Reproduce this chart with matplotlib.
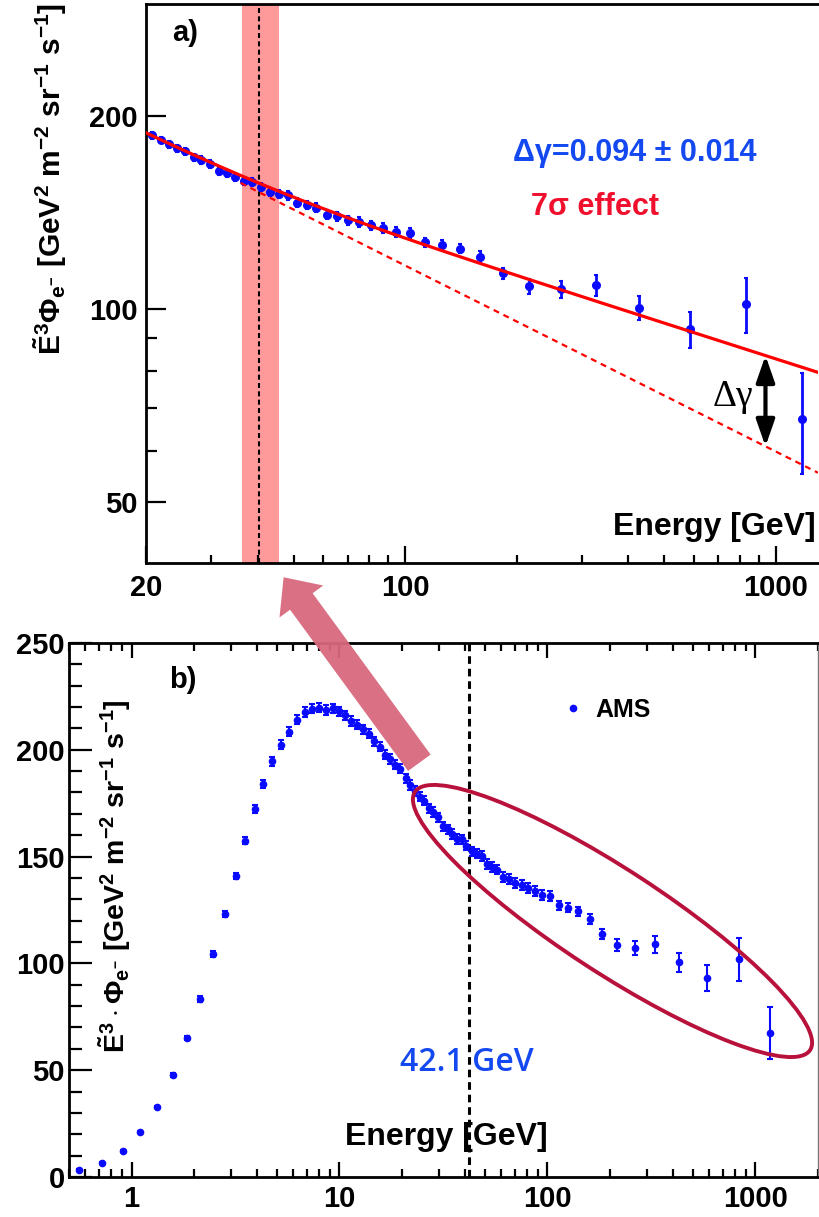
import numpy as np
import matplotlib
matplotlib.use('Agg')
import matplotlib.pyplot as plt
from matplotlib.patches import Ellipse, FancyArrowPatch

plt.rcParams['font.family'] = ['Liberation Sans', 'DejaVu Sans']
plt.rcParams['font.weight'] = 'bold'
plt.rcParams['axes.labelweight'] = 'bold'
plt.rcParams['mathtext.fontset'] = 'custom'
plt.rcParams['mathtext.rm'] = 'Liberation Sans:bold'
plt.rcParams['mathtext.it'] = 'Liberation Sans:bold'
plt.rcParams['mathtext.bf'] = 'Liberation Sans:bold'

# AMS electron flux x E^3
energy = [0.56, 0.72, 0.905, 1.10, 1.32, 1.58, 1.84, 2.13, 2.46, 2.81,
          3.17, 3.53, 3.92, 4.31, 4.76, 5.22, 5.73, 6.26, 6.82, 7.39,
          7.97, 8.61, 9.27, 9.95, 10.67, 11.4, 12.18, 13.0, 13.9, 14.7,
          15.6, 16.6, 17.5, 18.5, 19.5,
          20.8, 21.9, 23.1, 24.3, 25.5, 26.9, 28.2, 29.8, 31.4, 33.1,
          34.8, 36.8, 38.7, 40.8, 43.2, 45.6, 48.3, 51.2, 54.2, 57.4,
          61.4, 65.6, 70.2, 75.1, 80.7, 86.9, 94.6, 103.2,
          113.2, 125.8, 140.8, 159.4, 183.8, 216.3, 262.7, 327.6, 428.2,
          588.6, 832.0, 1174.0]
flux = [3.3, 6.6, 12.2, 21.1, 32.8, 47.8, 65.1, 83.3, 104.4, 123.1,
        140.9, 157.4, 172.1, 184.1, 194.6, 202.4, 208.5, 214.1, 217.6, 219.2,
        219.7, 218.6, 219.4, 218.0, 216.1, 213.5, 211.8, 209.6, 207.5, 204.0,
        201.5, 197.7, 195.6, 193.0, 191.2,
        186.6, 183.5, 180.7, 178.1, 176.2, 172.6, 170.8, 168.4, 164.2, 162.8,
        160.5, 158.2, 158.0, 155.1, 152.4, 151.3, 150.4, 146.5, 145.3, 143.9,
        140.3, 139.5, 137.5, 136.8, 135.1, 133.9, 131.9, 131.5,
        127.1, 126.1, 124.3, 120.7, 113.7, 108.6, 107.3, 109.0, 100.5,
        93.0, 101.9, 67.4]
flux_err = [0.3, 0.3, 0.4, 0.5, 0.6, 0.8, 1.0, 1.2, 1.4, 1.6,
            1.6, 1.7, 1.8, 1.9, 2.0, 2.0, 2.1, 2.1, 2.2, 2.2,
            2.2, 2.2, 2.2, 2.2, 2.2, 2.2, 2.2, 2.2, 2.2, 2.2,
            2.2, 2.2, 2.2, 2.2, 2.2,
            2.2, 2.2, 2.2, 2.2, 2.2, 2.2, 2.2, 2.2, 2.2, 2.2,
            2.2, 2.2, 2.2, 2.2, 2.2, 2.2, 2.3, 2.3, 2.3, 2.3,
            2.3, 2.3, 2.3, 2.3, 2.3, 2.4, 2.4, 2.4,
            2.0, 2.0, 2.0, 2.5, 2.3, 3.0, 3.2, 4.0, 4.5,
            6.0, 10.0, 12.0]

# broken power law fit drawn in panel a)
fit_norm20 = 186.5
fit_gamma = -0.29
delta_gamma = 0.105
fit_break = 42.1
fit_smooth = 0.05
band_lo, band_hi = 36.2, 45.8
band_mark = 40.3
arrow_energy = 938.0

blue = '#0a0aff'


def fit_low(e):
    return fit_norm20 * (e / 20.0) ** fit_gamma


def fit_full(e):
    return fit_low(e) * (1 + (e / fit_break) ** (delta_gamma / fit_smooth)) ** fit_smooth


E = np.array(energy)
F = np.array(flux)
dF = np.array(flux_err)

fig = plt.figure(figsize=(8.19, 12.17), dpi=100)
ax1 = fig.add_axes([0.1783, 0.5374, 0.8205, 0.4593])
ax2 = fig.add_axes([0.0842, 0.0329, 0.9145, 0.4388])

# ---------- panel a) ----------
sel = E > 20
ax1.axvspan(band_lo, band_hi, color='#ff9a9a', lw=0, zorder=0)
ax1.axvline(band_mark, color='black', lw=1.5, ls=(0, (2.4, 1.6)), zorder=1)
ax1.errorbar(E[sel], F[sel], yerr=dF[sel], fmt='o', color=blue, ms=5.5,
             elinewidth=2, capsize=1.5, capthick=1.5, zorder=2)
e_line = np.geomspace(20, 1300, 300)
ax1.plot(e_line, fit_full(e_line), color='#ff0000', lw=2.3, zorder=3)
e_dash = np.geomspace(36, 1300, 200)
ax1.plot(e_dash, fit_low(e_dash), color='#ff0000', lw=1.6, ls=(0, (2.7, 2.2)), zorder=3)
ax1.annotate('', xy=(arrow_energy, fit_full(arrow_energy)),
             xytext=(arrow_energy, fit_low(arrow_energy)),
             arrowprops=dict(arrowstyle='<|-|>,head_length=0.8,head_width=0.28',
                             lw=3, color='black', shrinkA=0, shrinkB=0,
                             mutation_scale=20), zorder=4)

ax1.set_xscale('log')
ax1.set_yscale('log')
ax1.set_xlim(20, 1300)
ax1.set_ylim(40.2, 299)
ax1.set_xticks([20, 100, 1000], ['20', '100', '1000'])
ax1.set_xticks([30, 40, 50, 60, 70, 80, 90, 200, 300, 400, 500, 600, 700, 800, 900], minor=True)
ax1.set_yticks([50, 100, 200], ['50', '100', '200'])
ax1.set_yticks([60, 70, 80, 90], minor=True)
ax1.xaxis.set_minor_formatter(matplotlib.ticker.NullFormatter())
ax1.yaxis.set_minor_formatter(matplotlib.ticker.NullFormatter())
ax1.tick_params(axis='both', which='both', direction='in', labelsize=21, width=1.6)
ax1.tick_params(axis='y', which='major', length=14.5, pad=6)
ax1.tick_params(axis='y', which='minor', length=7.7)
ax1.tick_params(axis='x', which='major', length=12, pad=8)
ax1.tick_params(axis='x', which='minor', length=6)
for s in ['left', 'bottom', 'top']:
    ax1.spines[s].set_linewidth(2)
ax1.spines['right'].set_visible(False)

ax1.set_ylabel(r'$\tilde{E}^{3}\Phi_{e^{-}}$ [GeV$^{2}$ m$^{-2}$ sr$^{-1}$ s$^{-1}$]',
               fontsize=21.5, fontweight='bold', va='center')
ax1.yaxis.set_label_coords(-0.143, 0.687)
ax1.text(0.997, 0.064, 'Energy [GeV]', transform=ax1.transAxes, ha='right',
         va='center', fontsize=23)
ax1.text(0.058, 0.948, 'a)', transform=ax1.transAxes, ha='center', va='center',
         fontsize=21)
ax1.text(0.7277, 0.733, '\u0394\u03b3=0.094 \u00b1 0.014', transform=ax1.transAxes,
         ha='center', va='center', fontsize=22, color='#1448f0')
ax1.text(0.668, 0.637, '7\u03c3 effect', transform=ax1.transAxes, ha='center',
         va='center', fontsize=22, color='#f0102e')
ax1.text(0.8735, 0.297, '\u0394\u03b3', transform=ax1.transAxes, ha='center',
         va='center', fontsize=27, fontweight='normal', family='Liberation Serif')

# ---------- panel b) ----------
ax2.axvline(fit_break, color='black', lw=2.2, ls=(0, (2.5, 1.6)), zorder=1)
ax2.errorbar(E, F, yerr=dF, fmt='o', color=blue, ms=4.5, elinewidth=1.5,
             capsize=2.2, capthick=1.5, zorder=2)
h, = ax2.plot([], [], 'o', color=blue, ms=4.5)
ax2.legend([h], ['AMS'], loc='center left', bbox_to_anchor=(0.656, 0.875),
           frameon=False, handlelength=1.0, handletextpad=0.4, borderpad=0,
           borderaxespad=0, fontsize=18)

ax2.set_xscale('log')
ax2.set_xlim(0.5, 2000)
ax2.set_ylim(0, 250)
ax2.set_xticks([1, 10, 100, 1000], ['1', '10', '100', '1000'])
ax2.set_yticks(np.arange(0, 251, 50))
ax2.set_yticks(np.arange(0, 251, 10), minor=True)
ax2.xaxis.set_minor_formatter(matplotlib.ticker.NullFormatter())
ax2.tick_params(axis='both', which='both', direction='in', labelsize=21, width=1.6)
ax2.tick_params(axis='x', which='both', top=True)
ax2.tick_params(axis='y', which='major', length=16.5, pad=3)
ax2.tick_params(axis='y', which='minor', length=9.4)
ax2.tick_params(axis='x', which='major', length=11, pad=6)
ax2.tick_params(axis='x', which='minor', length=6)
for s in ['left', 'bottom', 'top']:
    ax2.spines[s].set_linewidth(2)
ax2.spines['right'].set_linewidth(1)
ax2.spines['right'].set_color('#777777')

ax2.set_ylabel(r'$\tilde{E}^{3}\cdot\Phi_{e^{-}}$ [GeV$^{2}$ m$^{-2}$ sr$^{-1}$ s$^{-1}$]',
               fontsize=20.5, fontweight='bold', va='center')
ax2.yaxis.set_label_coords(0.061, 0.564)
ax2.text(0.6395, 0.075, 'Energy [GeV]', transform=ax2.transAxes, ha='right',
         va='center', fontsize=23)
ax2.text(0.152, 0.931, 'b)', transform=ax2.transAxes, ha='center', va='center',
         fontsize=21)
ax2.text(0.442, 0.215, '42.1 GeV', transform=ax2.transAxes, ha='left',
         va='center', fontsize=23, fontweight='semibold', color='#1448f0',
         family='Open Sans')

# zoom arrow from panel b) up to panel a), and the ellipse around the high-energy points
arrow = FancyArrowPatch((0.514, 0.3714), (0.3443, 0.5275), transform=fig.transFigure,
                        arrowstyle='simple,head_length=0.72,head_width=1.3,tail_width=0.67',
                        mutation_scale=30, color='#d8687c', lw=0, zorder=5, alpha=0.95)
fig.add_artist(arrow)
ell = Ellipse((6.125, 2.96), 4.72, 1.03, angle=-33.15, transform=fig.dpi_scale_trans,
              fill=False, edgecolor='#b8123c', lw=2.8, zorder=6)
fig.add_artist(ell)

fig.savefig('out.png', dpi=100)
